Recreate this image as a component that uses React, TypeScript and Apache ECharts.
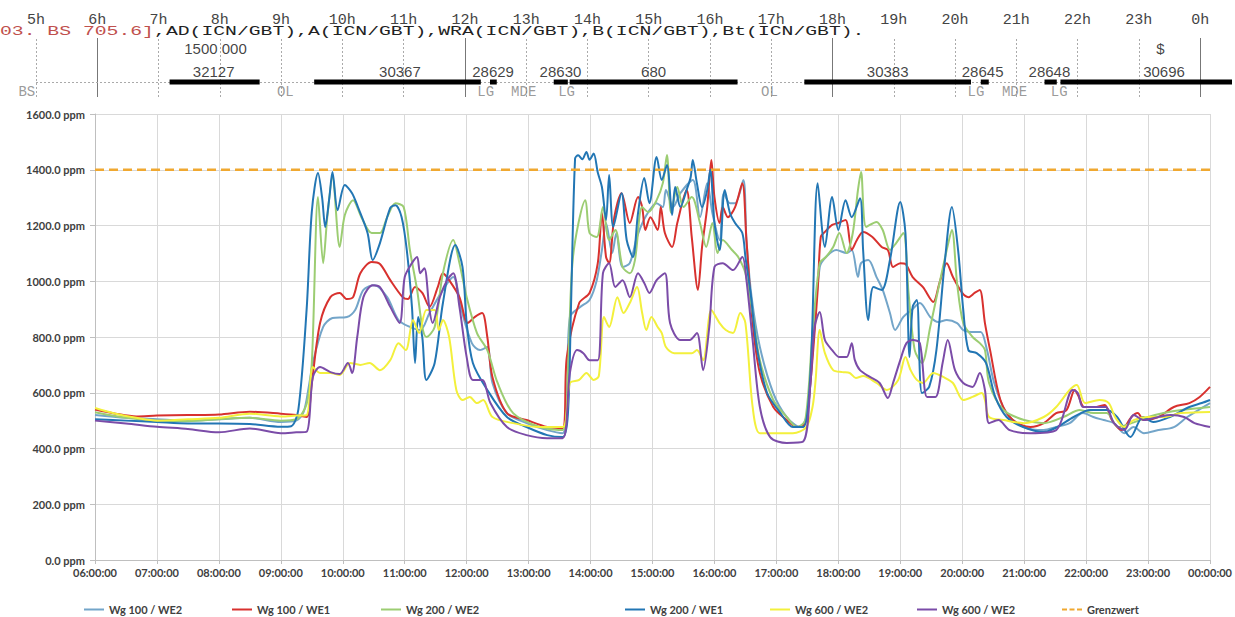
import React, { useEffect, useRef } from 'react';
import * as echarts from 'echarts';

// ---- main chart data: [time "HH:MM", ppm] ----
const wg100we2: [string, number][] = [
  ["06:00",520],["06:30",510],["07:00",505],["07:30",500],["08:00",505],["08:30",510],["09:00",495],["09:15",500],["09:22",530],["09:27",620],
  ["09:31",707],["09:41",836],["09:50",868],["10:04",872],["10:12",897],["10:20",969],["10:31",986],["10:43",943],["10:54",861],["11:05",836],
  ["11:15",825],["11:24",886],["11:37",969],["11:47",1015],["11:55",897],["12:05",778],["12:13",753],["12:20",764],["12:25",635],["12:39",527],
  ["12:58",491],["13:18",466],["13:33",455],["13:37",600],["13:40",872],["13:50",908],["13:59",933],["14:06",1004],["14:11",1112],["14:15",1209],
  ["14:21",1101],["14:25",1173],["14:31",1051],["14:38",1065],["14:45",1159],["14:53",1230],["15:04",1280],["15:10",1266],["15:13",1327],["15:20",1266],
  ["15:27",1316],["15:39",1363],["15:46",1230],["15:53",1352],["15:58",1245],["16:05",1148],["16:09",1316],["16:15",1280],["16:20",1280],["16:28",1363],
  ["16:31",1148],["16:36",943],["16:44",764],["16:57",599],["17:10",513],["17:23",477],["17:30",527],["17:35",753],["17:42",1051],["17:48",1087],
  ["17:58",1112],["18:08",1101],["18:13",1112],["18:19",1015],["18:22",1065],["18:29",1076],["18:37",1015],["18:43",969],["18:50",886],["18:55",825],
  ["19:03",872],["19:11",897],["19:19",922],["19:29",872],["19:37",854],["19:45",861],["19:55",850],["20:01",825],["20:12",818],["20:18",818],
  ["20:24",753],["20:31",635],["20:43",527],["21:00",477],["21:19",466],["21:31",477],["21:44",491],["21:57",527],["22:07",513],["22:17",502],
  ["22:27",491],["22:37",455],["22:46",477],["22:56",455],["23:10",466],["23:25",477],["23:38",513],["24:00",563]
];

const wg100we1: [string, number][] = [
  ["06:00",540],["06:20",525],["06:40",515],["07:00",518],["07:30",520],["08:00",522],["08:30",532],["09:00",525],["09:15",520],["09:25",513],
  ["09:30",635],["09:38",850],["09:48",943],["09:57",958],["10:04",936],["10:10",943],["10:17",1029],["10:28",1069],["10:36",1062],["10:46",1004],
  ["10:58",943],["11:03",936],["11:10",979],["11:17",958],["11:24",908],["11:32",979],["11:37",1029],["11:43",1004],["11:53",943],["12:01",850],
  ["12:08",872],["12:15",886],["12:20",800],["12:25",656],["12:39",527],["12:58",502],["13:18",477],["13:33",473],["13:37",728],["13:49",922],
  ["13:59",958],["14:07",1065],["14:11",1245],["14:15",1087],["14:18",1065],["14:23",1230],["14:30",1316],["14:38",1209],["14:46",1302],["14:50",1266],
  ["14:53",1184],["14:58",1230],["15:05",1184],["15:08",1266],["15:12",1173],["15:19",1123],["15:24",1209],["15:33",1327],["15:38",1159],["15:44",969],
  ["15:48",1123],["15:53",1266],["15:57",1435],["16:00",1302],["16:05",1209],["16:08",1266],["16:13",1230],["16:20",1266],["16:27",1352],["16:31",1148],
  ["16:37",850],["16:44",671],["16:57",549],["17:10",502],["17:20",477],["17:28",491],["17:33",635],["17:40",969],["17:43",1159],["17:47",1177],
  ["17:54",1202],["18:00",1209],["18:07",1220],["18:13",1112],["18:18",1148],["18:24",1177],["18:33",1159],["18:42",1123],["18:48",1112],["18:53",1051],
  ["19:00",1065],["19:05",1062],["19:12",1015],["19:22",979],["19:32",926],["19:38",994],["19:45",1065],["19:51",1015],["20:00",958],["20:06",943],
  ["20:12",958],["20:17",969],["20:22",850],["20:27",753],["20:37",574],["20:49",502],["21:06",477],["21:19",491],["21:31",527],["21:41",538],
  ["21:49",610],["21:53",585],["21:58",549],["22:10",549],["22:18",556],["22:25",502],["22:34",466],["22:44",513],["22:50",527],["22:56",502],
  ["23:10",513],["23:25",549],["23:40",563],["23:50",585],["24:00",621]
];

const wg200we2: [string, number][] = [
  ["06:00",530],["06:30",510],["07:00",500],["07:30",498],["08:00",505],["08:30",510],["09:00",500],["09:15",505],["09:25",560],["09:30",707],
  ["09:36",1302],["09:41",1065],["09:45",1230],["09:50",1374],["09:57",1123],["10:02",1238],["10:10",1291],["10:18",1230],["10:28",1173],["10:36",1173],
  ["10:43",1230],["10:51",1280],["10:59",1266],["11:05",1112],["11:12",969],["11:17",836],["11:21",800],["11:29",836],["11:37",1029],["11:47",1148],
  ["11:53",1065],["12:00",943],["12:10",814],["12:20",753],["12:30",635],["12:45",527],["13:11",477],["13:33",466],["13:38",671],["13:43",1087],
  ["13:55",1291],["13:59",1173],["14:06",1159],["14:12",1266],["14:18",1148],["14:24",1184],["14:31",1051],["14:38",1029],["14:43",1076],["14:50",1266],
  ["14:56",1248],["15:04",1291],["15:10",1352],["15:14",1453],["15:18",1245],["15:24",1338],["15:30",1266],["15:38",1302],["15:46",1209],["15:52",1123],
  ["15:58",1209],["16:03",1101],["16:08",1148],["16:17",1112],["16:23",1087],["16:30",1029],["16:37",886],["16:44",717],["16:57",574],["17:10",513],
  ["17:20",477],["17:28",502],["17:35",814],["17:42",1065],["17:48",1087],["17:55",1123],["18:01",1173],["18:08",1101],["18:14",1173],["18:19",1327],
  ["18:22",1392],["18:27",1195],["18:37",1213],["18:43",1184],["18:50",1112],["18:56",1137],["19:03",1173],["19:08",958],["19:14",753],["19:21",707],
  ["19:29",836],["19:36",958],["19:45",1112],["19:50",1184],["19:55",994],["20:01",850],["20:10",800],["20:17",778],["20:22",753],["20:26",635],
  ["20:40",538],["21:00",502],["21:19",491],["21:38",513],["21:54",538],["22:07",527],["22:20",527],["22:31",477],["22:44",491],["23:00",513],
  ["23:15",527],["23:32",538],["24:00",549]
];

const wg200we1: [string, number][] = [
  ["06:00",505],["06:30",500],["07:00",495],["07:30",490],["08:00",490],["08:30",488],["09:00",478],["09:10",480],["09:17",540],["09:25",900],
  ["09:30",1250],["09:36",1388],["09:40",1300],["09:43",1195],["09:47",1300],["09:50",1392],["09:55",1255],["10:02",1345],["10:09",1316],["10:15",1263],
  ["10:24",1173],["10:29",1076],["10:36",1137],["10:46",1263],["10:51",1273],["10:57",1230],["11:02",1112],["11:07",908],["11:10",707],["11:13",872],
  ["11:17",800],["11:21",646],["11:29",707],["11:37",922],["11:49",1130],["11:56",1051],["12:00",850],["12:06",707],["12:20",610],["12:39",513],
  ["12:58",477],["13:18",448],["13:33",441],["13:38",520],["13:41",900],["13:45",1440],["13:48",1452],["13:52",1438],["13:56",1464],["13:59",1436],
  ["14:03",1458],["14:07",1390],["14:11",1338],["14:15",1220],
  ["14:18",1381],["14:22",1195],["14:30",1316],["14:35",1148],["14:41",1087],["14:46",1245],["14:52",1370],["14:57",1280],["15:04",1446],["15:09",1363],
  ["15:14",1417],["15:19",1238],["15:22",1338],["15:27",1266],["15:33",1327],["15:37",1374],["15:39",1435],["15:43",1352],["15:48",1266],["15:53",1327],
  ["15:56",1400],["16:00",1209],["16:05",1112],["16:10",1327],["16:15",1245],["16:20",1209],["16:27",1173],["16:30",1087],["16:35",958],["16:41",764],
  ["16:51",599],["17:04",527],["17:16",477],["17:26",477],["17:33",671],["17:40",1352],["17:47",1123],["17:54",1302],["18:00",1184],["18:07",1291],
  ["18:13",1230],["18:21",1298],["18:24",1112],["18:29",861],["18:34",979],["18:42",969],["18:50",1076],["19:00",1284],["19:05",1173],["19:09",728],
  ["19:12",908],["19:16",933],["19:21",599],["19:28",621],["19:35",753],["19:43",1065],["19:50",1266],["19:56",1112],["20:01",897],["20:06",753],
  ["20:14",742],["20:23",707],["20:32",585],["20:43",513],["20:59",477],["21:19",459],["21:32",477],["21:48",513],["22:04",538],["22:20",538],
  ["22:30",513],["22:43",441],["22:55",513],["23:05",495],["23:21",513],["23:40",549],["23:52",563],["24:00",574]
];

const wg600we2Yellow: [string, number][] = [
  ["06:00",545],["06:20",525],["06:40",510],["07:00",500],["07:30",505],["08:00",510],["08:30",525],["09:00",515],["09:15",518],["09:25",520],
  ["09:31",692],["09:38",671],["09:48",671],["09:57",664],["10:07",707],["10:17",700],["10:26",707],["10:36",681],["10:46",717],["10:54",778],
  ["11:01",753],["11:08",861],["11:14",814],["11:21",897],["11:29",897],["11:33",825],["11:37",861],["11:43",800],["11:50",610],["11:56",574],
  ["12:03",585],["12:10",563],["12:16",574],["12:25",513],["12:45",491],["13:11",477],["13:33",477],["13:40",635],["13:49",646],["13:56",671],
  ["14:03",646],["14:08",660],["14:13",872],["14:18",836],["14:26",943],["14:32",886],["14:38",922],["14:45",979],["14:50",886],["14:54",825],
  ["14:59",872],["15:05",836],["15:09",814],["15:13",764],["15:21",742],["15:38",742],["15:43",753],["15:49",717],["15:57",897],["16:05",850],
  ["16:11",825],["16:18",814],["16:25",886],["16:30",850],["16:37",549],["16:44",455],["17:00",455],["17:16",455],["17:29",477],["17:35",549],
  ["17:38",646],["17:42",825],["17:47",742],["17:55",681],["18:04",674],["18:11",671],["18:17",653],["18:24",660],["18:37",635],["18:47",610],
  ["18:58",646],["19:05",728],["19:10",681],["19:16",646],["19:22",635],["19:32",671],["19:42",656],["19:51",635],["20:01",574],["20:10",585],
  ["20:19",599],["20:22",574],["20:26",513],["20:40",502],["21:00",491],["21:19",513],["21:31",549],["21:44",610],["21:51",628],["21:59",563],
  ["22:13",574],["22:22",563],["22:28",513],["22:37",477],["22:46",502],["23:00",513],["23:15",513],["23:32",527],["24:00",531]
];

const wg600we2Purple: [string, number][] = [
  ["06:00",500],["06:30",490],["07:00",478],["07:30",470],["08:00",458],["08:30",472],["09:00",455],["09:15",458],["09:25",460],["09:31",656],
  ["09:38",692],["09:48",674],["09:57",667],["10:05",707],["10:09",671],["10:14",800],["10:20",943],["10:29",986],["10:36",979],["10:46",908],
  ["10:55",850],["11:00",1015],["11:07",1065],["11:12",1087],["11:15",1029],["11:19",1047],["11:24",897],["11:27",850],["11:34",943],["11:41",1004],
  ["11:47",1029],["11:53",908],["12:00",728],["12:06",646],["12:15",646],["12:23",563],["12:39",477],["12:58",448],["13:18",437],["13:33",437],
  ["13:40",671],["13:47",753],["13:53",742],["13:59",717],["14:07",717],["14:12",1029],["14:18",1065],["14:24",979],["14:31",1004],["14:38",943],
  ["14:46",1029],["14:52",994],["14:57",958],["15:04",1004],["15:12",1029],["15:17",850],["15:27",789],["15:36",789],["15:43",814],["15:49",681],
  ["15:55",836],["16:00",1051],["16:08",1065],["16:18",1040],["16:27",1087],["16:31",1004],["16:37",789],["16:44",549],["16:54",441],["17:10",420],
  ["17:26",425],["17:33",635],["17:37",836],["17:42",890],["17:47",789],["17:54",753],["18:01",728],["18:08",728],["18:13",778],["18:16",717],
  ["18:21",681],["18:31",656],["18:40",635],["18:48",581],["18:53",635],["19:00",717],["19:06",778],["19:12",789],["19:19",778],["19:26",585],
  ["19:34",585],["19:41",707],["19:46",789],["19:53",681],["20:01",635],["20:10",621],["20:17",671],["20:22",610],["20:26",491],["20:35",502],
  ["20:46",466],["21:06",455],["21:31",466],["21:47",610],["21:52",599],["21:57",549],["22:10",549],["22:19",549],["22:27",491],["22:37",466],
  ["22:46",520],["22:56",502],["23:10",513],["23:22",520],["23:35",513],["23:45",491],["24:00",477]
];

const grenzwert = 1400;

const seriesNames = ['Wg 100 / WE2', 'Wg 100 / WE1', 'Wg 200 / WE2', 'Wg 200 / WE1', 'Wg 600 / WE2', 'Wg 600 / WE2 ', 'Grenzwert'];
const seriesColors = ['#73a5c9', '#d8312e', '#9ccd72', '#2276b4', '#f3f03c', '#7b4ca8', '#f0a830'];
const seriesData = [wg100we2, wg100we1, wg200we2, wg200we1, wg600we2Yellow, wg600we2Purple];

// ---- top timeline strip ----
const stripHours = [5, 6, 7, 8, 9, 10, 11, 12, 13, 14, 15, 16, 17, 18, 19, 20, 21, 22, 23, 24];
const solidHours = [6, 12, 18, 24];
const blocks: [number, number][] = [
  [7.18, 8.65], [9.54, 12.26], [12.41, 12.52], [13.45, 13.68], [13.71, 16.45],
  [17.54, 20.26], [20.42, 20.55], [21.46, 21.66], [21.72, 24.52]
];
const blockLabels: [number, string][] = [
  [7.9, '32127'], [10.94, '30367'], [12.46, '28629'], [13.56, '28630'], [15.08, '680'],
  [18.9, '30383'], [20.45, '28645'], [21.54, '28648'], [23.41, '30696']
];
const upperLabels: [number, string][] = [[7.93, '1500 000'], [23.35, '$']];
const codeLabels: [number, string][] = [
  [4.85, 'BS'], [9.07, 'OL'], [12.34, 'LG'], [12.96, 'MDE'], [13.66, 'LG'],
  [16.97, 'OL'], [20.34, 'LG'], [20.97, 'MDE'], [21.7, 'LG']
];
const headerRed = '03. BS 705.6]';
const headerBlack = ',AD(ICN/GBT),A(ICN/GBT),WRA(ICN/GBT),B(ICN/GBT),Bt(ICN/GBT).';

const legendLefts = [79, 227, 376, 620, 765, 912, 1057];

const toH = (t: string) => {
  const [h, m] = t.split(':').map(Number);
  return h + m / 60;
};

export default function App() {
  const ref = useRef<HTMLDivElement>(null);
  useEffect(() => {
    if (!ref.current) return;
    const chart = echarts.init(ref.current, undefined, { renderer: 'svg' });
    const BAR_Y = 0.254;
    const labelFont = 'Lato';

    const lineSeries: any[] = seriesData.map((d, i) => ({
      name: seriesNames[i],
      type: 'line',
      xAxisIndex: 0,
      yAxisIndex: 0,
      data: d.map(([t, v]) => [toH(t), v]),
      symbol: 'none',
      smooth: 0.3,
      lineStyle: { width: 2, color: seriesColors[i] },
      itemStyle: { color: seriesColors[i] },
      emphasis: { disabled: true },
      z: 3,
    }));
    lineSeries.push({
      name: 'Grenzwert',
      type: 'line',
      xAxisIndex: 0,
      yAxisIndex: 0,
      data: [[6, grenzwert], [24, grenzwert]],
      symbol: 'none',
      lineStyle: { width: 2.5, color: seriesColors[6], type: [9, 5] },
      itemStyle: { color: seriesColors[6] },
      emphasis: { disabled: true },
      z: 4,
    });

    const stripSeries: any[] = [
      {
        type: 'line',
        xAxisIndex: 1,
        yAxisIndex: 1,
        data: [],
        z: 1,
        markLine: {
          silent: true,
          symbol: 'none',
          label: { show: false },
          data: [
            ...stripHours.map((h) => ({
              xAxis: h,
              lineStyle: solidHours.includes(h)
                ? { type: 'solid', color: '#777', width: 1 }
                : { type: [2, 2], color: '#aaa', width: 1 },
            })),
            { yAxis: BAR_Y, lineStyle: { type: [2, 2], color: '#aaa', width: 1 } },
          ],
        },
      },
      {
        type: 'custom',
        xAxisIndex: 1,
        yAxisIndex: 1,
        data: blocks,
        clip: false,
        z: 5,
        renderItem: (params: any, api: any) => {
          const s = api.coord([api.value(0), BAR_Y]);
          const e = api.coord([api.value(1), BAR_Y]);
          return {
            type: 'rect',
            shape: { x: s[0], y: s[1] - 2.5, width: e[0] - s[0], height: 5 },
            style: { fill: '#000' },
          };
        },
      },
      {
        type: 'scatter',
        xAxisIndex: 1,
        yAxisIndex: 1,
        clip: false,
        symbolSize: 1,
        z: 6,
        itemStyle: { color: 'rgba(0,0,0,0)' },
        data: blockLabels.map(([x, t]) => ({ value: [x, 0.424], name: t })),
        label: { show: true, position: 'inside', formatter: '{b}', fontFamily: 'Liberation Sans', fontSize: 15, color: '#111' },
      },
      {
        type: 'scatter',
        xAxisIndex: 1,
        yAxisIndex: 1,
        clip: false,
        symbolSize: 1,
        z: 6,
        itemStyle: { color: 'rgba(0,0,0,0)' },
        data: upperLabels.map(([x, t]) => ({ value: [x, 0.814], name: t })),
        label: { show: true, position: 'inside', formatter: '{b}', fontFamily: 'Liberation Sans', fontSize: 15, color: '#111' },
      },
      {
        type: 'scatter',
        xAxisIndex: 1,
        yAxisIndex: 1,
        clip: false,
        symbolSize: 1,
        z: 6,
        itemStyle: { color: 'rgba(0,0,0,0)' },
        data: codeLabels.map(([x, t]) => ({ value: [x, 0.085], name: t })),
        label: { show: true, position: 'inside', formatter: '{b}', fontFamily: 'Liberation Mono', fontSize: 14, color: '#808080' },
      },
    ];

    const charW = 11.85;
    const fs = 13;
    const sx = charW / (0.6 * fs);
    const dashIcon = 'path://M0,0H6V2.5H0Z M9,0H15V2.5H9Z M18,0H24V2.5H18Z';

    chart.setOption({
      animation: false,
      backgroundColor: '#fff',
      grid: [
        { left: 95, right: 25, top: 114, bottom: 57 },
        { left: 36, width: 1199, top: 38, height: 59 },
      ],
      xAxis: [
        {
          type: 'value',
          gridIndex: 0,
          min: 6,
          max: 24,
          interval: 1,
          axisLine: { show: true, lineStyle: { color: '#bfbfbf' } },
          axisTick: { show: true, length: 4, lineStyle: { color: '#bfbfbf' } },
          splitLine: { show: true, lineStyle: { color: '#d9d9d9' } },
          axisLabel: {
            margin: 7,
            fontFamily: labelFont,
            fontWeight: 'bold',
            fontSize: 11,
            color: '#404040',
            formatter: (v: number) => `${String(Math.round(v) % 24).padStart(2, '0')}:00:00`,
          },
        },
        {
          type: 'value',
          gridIndex: 1,
          min: 5,
          max: 24.52,
          interval: 1,
          position: 'top',
          axisLine: { show: false },
          axisTick: { show: false },
          splitLine: { show: false },
          axisLabel: {
            margin: 10,
            fontFamily: 'Liberation Mono',
            fontSize: 15,
            color: '#444',
            formatter: (v: number) => (Math.abs(v - Math.round(v)) < 1e-6 ? `${Math.round(v) % 24}h` : ''),
          },
        },
      ],
      yAxis: [
        {
          type: 'value',
          gridIndex: 0,
          min: 0,
          max: 1600,
          interval: 200,
          axisLine: { show: true, lineStyle: { color: '#bfbfbf' } },
          axisTick: { show: true, length: 5, lineStyle: { color: '#bfbfbf' } },
          splitLine: { show: true, lineStyle: { color: '#d9d9d9' } },
          axisLabel: {
            margin: 10,
            fontFamily: labelFont,
            fontWeight: 'bold',
            fontSize: 11,
            color: '#404040',
            formatter: (v: number) => `${v.toFixed(1)} ppm`,
          },
        },
        { type: 'value', gridIndex: 1, min: 0, max: 1, show: false },
      ],
      legend: seriesNames.map((n, i) => ({
        data: [{ name: n, icon: i === 6 ? dashIcon : 'rect' }],
        left: legendLefts[i],
        top: 599,
        itemWidth: 20,
        itemHeight: i === 6 ? 2.5 : 2,
        selectedMode: false,
        formatter: (name: string) => name.trim(),
        textStyle: { fontFamily: labelFont, fontWeight: 'bold', fontSize: 11, color: '#404040' },
      })),
      graphic: [
        {
          type: 'text',
          x: 0,
          y: 32,
          scaleX: sx,
          style: { text: headerRed, fontFamily: 'Liberation Mono', fontSize: fs, fill: '#c0504d', verticalAlign: 'middle' },
        },
        {
          type: 'text',
          x: headerRed.length * charW,
          y: 32,
          scaleX: sx,
          style: { text: headerBlack, fontFamily: 'Liberation Mono', fontSize: fs, fill: '#222', verticalAlign: 'middle' },
        },
      ],
      series: [...lineSeries, ...stripSeries],
    });
    return () => chart.dispose();
  }, []);
  return <div ref={ref} style={{ position: 'fixed', left: 0, top: 0, width: 1235, height: 617, background: '#fff' }} />;
}
